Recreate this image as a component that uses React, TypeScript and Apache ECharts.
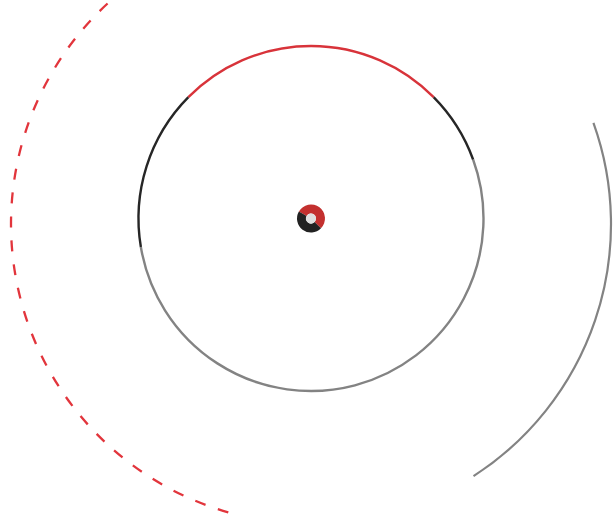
import React, { useEffect, useRef } from "react";
import * as echarts from "echarts";

// Inner ring: radius (px units of the radius axis) and angular segments (degrees, CCW from east)
const innerRingRadius = 172.5;
const innerRedArcs: [number, number][] = [[44.7, 135.3]];
const innerDarkArcs: [number, number][] = [
  [135.3, 189.5],
  [20, 44.7],
];
const innerGrayArcs: [number, number][] = [[189.5, 380]];

// Outer arcs
const outerRadius = 300;
const outerDashedArcs: [number, number][] = [[125, 254]];
const outerGrayArcs: [number, number][] = [[-57.2, 19.7]];

// Center donut
const donutNames = ["A", "B"];
const donutValues = [54, 46];

const RED = "#d8333a";
const DASH_RED = "#e2353c";
const DARK = "#262626";
const GRAY = "#838383";

function makeRender(stroke: string, lineWidth: number, lineDash?: number[]) {
  return (params: any, api: any) => {
    const r = api.value(0);
    const a1 = api.value(1);
    const a2 = api.value(2);
    const c = api.coord([0, 0]);
    const p1 = api.coord([r, a1]);
    const p2 = api.coord([r, a2]);
    const rad = Math.hypot(p1[0] - c[0], p1[1] - c[1]);
    const sA = Math.atan2(p2[1] - c[1], p2[0] - c[0]);
    let eA = Math.atan2(p1[1] - c[1], p1[0] - c[0]);
    while (eA <= sA) eA += Math.PI * 2;
    return {
      type: "arc",
      shape: { cx: c[0], cy: c[1], r: rad, startAngle: sA, endAngle: eA, clockwise: true },
      style: {
        stroke,
        lineWidth,
        fill: null,
        lineDash: lineDash || null,
        lineCap: "butt",
      },
      silent: true,
    };
  };
}

const hiddenAxis = {
  axisLine: { show: false },
  axisTick: { show: false },
  axisLabel: { show: false },
  splitLine: { show: false },
  splitArea: { show: false },
};

export default function App() {
  const ref = useRef<HTMLDivElement>(null);
  useEffect(() => {
    document.body.style.margin = "0";
    if (!ref.current) return;
    const chart = echarts.init(ref.current, undefined, { renderer: "svg" });
    const innerCenter = [311, 218.5];
    const outerCenter = [311, 224];
    const toData = (arcs: [number, number][], r: number) => arcs.map(([a, b]) => [r, a, b]);
    chart.setOption({
      animation: false,
      polar: [
        { center: innerCenter, radius: 300 },
        { center: outerCenter, radius: 300 },
      ],
      radiusAxis: [
        { polarIndex: 0, type: "value", min: 0, max: 300, ...hiddenAxis },
        { polarIndex: 1, type: "value", min: 0, max: 300, ...hiddenAxis },
      ],
      angleAxis: [
        { polarIndex: 0, type: "value", min: 0, max: 360, startAngle: 0, clockwise: false, ...hiddenAxis },
        { polarIndex: 1, type: "value", min: 0, max: 360, startAngle: 0, clockwise: false, ...hiddenAxis },
      ],
      series: [
        {
          type: "custom",
          coordinateSystem: "polar",
          polarIndex: 0,
          data: toData(innerGrayArcs, innerRingRadius),
          renderItem: makeRender(GRAY, 2.4),
          silent: true,
        },
        {
          type: "custom",
          coordinateSystem: "polar",
          polarIndex: 0,
          data: toData(innerDarkArcs, innerRingRadius),
          renderItem: makeRender(DARK, 2.4),
          silent: true,
        },
        {
          type: "custom",
          coordinateSystem: "polar",
          polarIndex: 0,
          data: toData(innerRedArcs, innerRingRadius),
          renderItem: makeRender(RED, 2.4),
          silent: true,
        },
        {
          type: "custom",
          coordinateSystem: "polar",
          polarIndex: 1,
          data: toData(outerDashedArcs, outerRadius),
          renderItem: makeRender(DASH_RED, 2.3, [11, 13]),
          silent: true,
        },
        {
          type: "custom",
          coordinateSystem: "polar",
          polarIndex: 1,
          data: toData(outerGrayArcs, outerRadius),
          renderItem: makeRender(GRAY, 2.2),
          silent: true,
        },
        {
          type: "pie",
          center: innerCenter,
          radius: [5, 14],
          startAngle: 150,
          clockwise: true,
          silent: true,
          label: { show: false },
          labelLine: { show: false },
          data: donutNames.map((n, i) => ({
            name: n,
            value: donutValues[i],
            itemStyle: { color: i === 0 ? "#c3302f" : "#222222" },
          })),
        },
        {
          type: "pie",
          center: innerCenter,
          radius: [0, 5],
          silent: true,
          label: { show: false },
          labelLine: { show: false },
          data: [{ name: "core", value: 1, itemStyle: { color: "#e0e0e0" } }],
        },
      ],
    });
    return () => chart.dispose();
  }, []);
  return <div ref={ref} style={{ width: 615, height: 518 }} />;
}
